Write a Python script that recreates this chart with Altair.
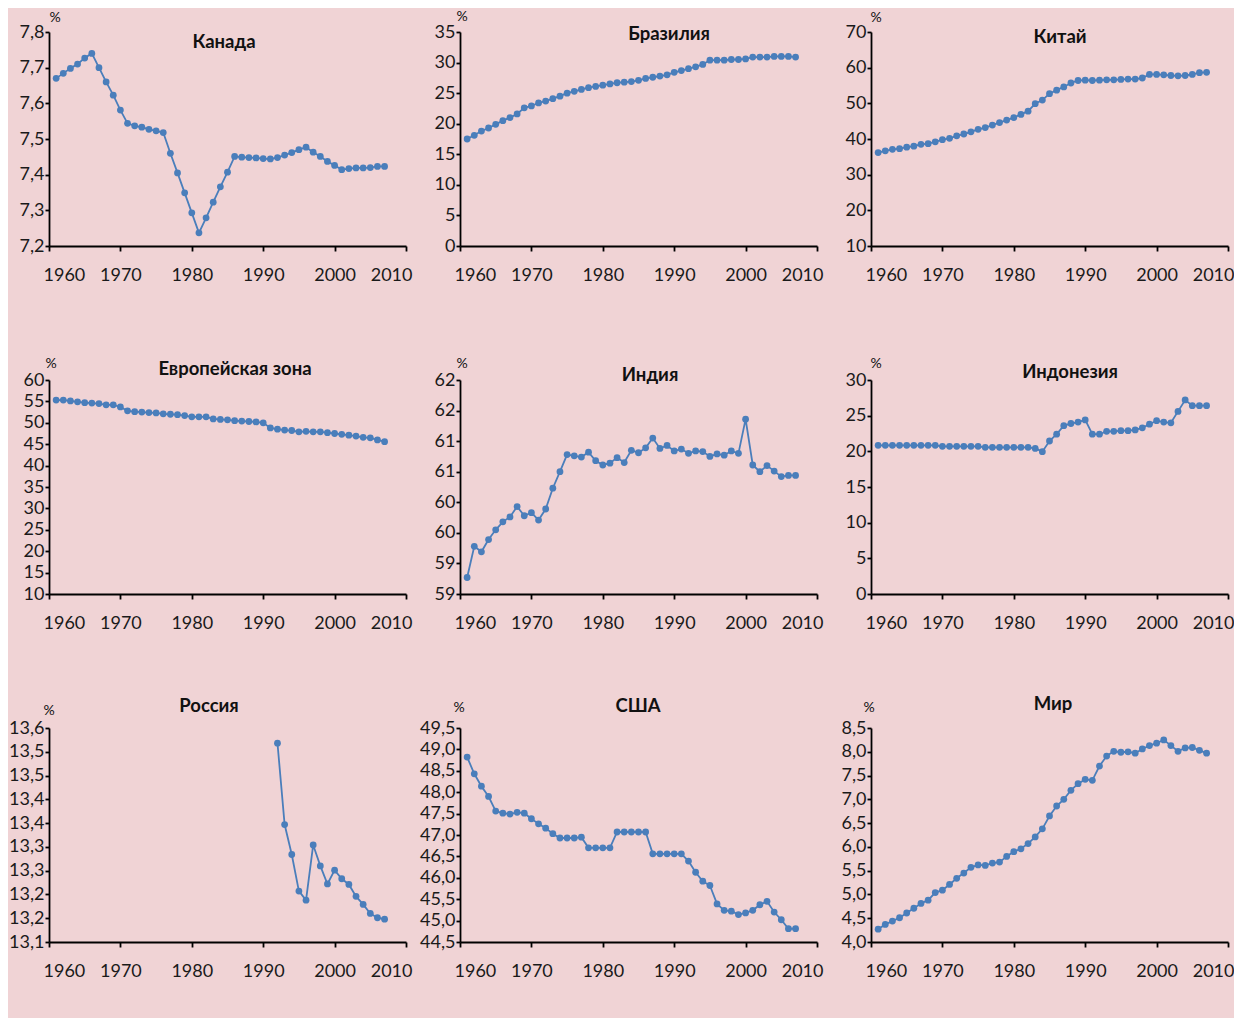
import json
import altair as alt
import pandas as pd

# ---------------- data ----------------
YEARS = list(range(1961, 2008))
YEARS_RU = list(range(1992, 2008))
X_TICKS = [1960, 1970, 1980, 1990, 2000, 2010]

names = ["Канада", "Бразилия", "Китай", "Европейская зона", "Индия",
         "Индонезия", "Россия", "США", "Мир"]

canada = [7.670, 7.684, 7.698, 7.710, 7.727, 7.740, 7.700, 7.660, 7.623, 7.581,
          7.544, 7.537, 7.533, 7.527, 7.523, 7.518, 7.460, 7.405, 7.349, 7.293,
          7.237, 7.279, 7.323, 7.366, 7.407, 7.451, 7.449, 7.448, 7.447, 7.445,
          7.444, 7.448, 7.455, 7.462, 7.470, 7.477, 7.463, 7.451, 7.437, 7.426,
          7.414, 7.417, 7.419, 7.419, 7.420, 7.423, 7.423]
brazil = [17.5, 18.1, 18.8, 19.3, 19.9, 20.5, 21.0, 21.6, 22.6, 22.9,
          23.4, 23.7, 24.1, 24.5, 25.0, 25.3, 25.6, 25.9, 26.1, 26.3,
          26.5, 26.7, 26.8, 26.9, 27.1, 27.4, 27.6, 27.8, 28.0, 28.4,
          28.7, 29.0, 29.3, 29.7, 30.4, 30.4, 30.4, 30.5, 30.5, 30.6,
          30.9, 30.9, 30.9, 31.0, 31.0, 31.0, 30.9]
china = [36.2, 36.7, 37.1, 37.3, 37.7, 38.0, 38.5, 38.7, 39.2, 39.8,
         40.2, 40.9, 41.4, 42.0, 42.7, 43.2, 43.9, 44.6, 45.3, 46.0,
         46.9, 47.8, 49.9, 50.9, 52.7, 53.7, 54.6, 55.7, 56.4, 56.5,
         56.4, 56.5, 56.6, 56.6, 56.7, 56.8, 56.8, 57.1, 58.1, 58.1,
         58.0, 57.8, 57.7, 57.8, 58.1, 58.6, 58.7]
europe = [55.3, 55.3, 55.1, 54.9, 54.7, 54.6, 54.5, 54.2, 54.2, 53.7,
          52.8, 52.6, 52.5, 52.4, 52.3, 52.1, 52.0, 51.9, 51.7, 51.4,
          51.4, 51.4, 50.9, 50.8, 50.7, 50.5, 50.4, 50.3, 50.2, 50.0,
          48.8, 48.5, 48.3, 48.2, 47.9, 48.0, 47.9, 47.9, 47.7, 47.5,
          47.3, 47.1, 46.9, 46.6, 46.5, 46.0, 45.6]
india = [58.77, 59.28, 59.19, 59.39, 59.55, 59.68, 59.76, 59.93, 59.78, 59.83,
         59.71, 59.89, 60.23, 60.50, 60.78, 60.76, 60.74, 60.82, 60.68, 60.61,
         60.64, 60.73, 60.65, 60.85, 60.81, 60.89, 61.05, 60.88, 60.93, 60.84,
         60.87, 60.80, 60.84, 60.83, 60.75, 60.79, 60.77, 60.84, 60.80, 61.36,
         60.61, 60.50, 60.60, 60.51, 60.42, 60.44, 60.44]
indonesia = [20.84, 20.84, 20.84, 20.84, 20.84, 20.84, 20.84, 20.84, 20.84, 20.7,
             20.7, 20.7, 20.7, 20.7, 20.7, 20.56, 20.56, 20.56, 20.56, 20.56,
             20.56, 20.56, 20.4, 19.95, 21.45, 22.4, 23.6, 23.9, 24.1, 24.4,
             22.4, 22.4, 22.8, 22.8, 22.9, 22.9, 23.0, 23.3, 23.8, 24.3,
             24.1, 24.0, 25.6, 27.2, 26.4, 26.4, 26.4]
russia = [13.568, 13.397, 13.334, 13.257, 13.238, 13.354, 13.310, 13.272,
          13.301, 13.283, 13.271, 13.246, 13.229, 13.210, 13.201, 13.198]
usa = [48.82, 48.43, 48.14, 47.90, 47.56, 47.51, 47.49, 47.53, 47.51, 47.38,
       47.26, 47.16, 47.03, 46.93, 46.93, 46.93, 46.95, 46.70, 46.70, 46.70,
       46.70, 47.07, 47.07, 47.07, 47.07, 47.07, 46.56, 46.56, 46.56, 46.56,
       46.56, 46.39, 46.13, 45.92, 45.82, 45.39, 45.24, 45.22, 45.14, 45.18,
       45.24, 45.37, 45.45, 45.20, 45.02, 44.81, 44.81]
world = [4.27, 4.37, 4.44, 4.51, 4.61, 4.71, 4.81, 4.88, 5.04, 5.09,
         5.21, 5.34, 5.45, 5.57, 5.62, 5.61, 5.66, 5.68, 5.80, 5.90,
         5.96, 6.07, 6.21, 6.38, 6.65, 6.86, 7.00, 7.19, 7.33, 7.42,
         7.40, 7.70, 7.91, 8.01, 7.99, 8.00, 7.97, 8.06, 8.13, 8.18,
         8.25, 8.13, 8.01, 8.08, 8.09, 8.03, 7.97]

canada_ticks = [7.2, 7.3, 7.4, 7.5, 7.6, 7.7, 7.8]
canada_labels = ["7,2", "7,3", "7,4", "7,5", "7,6", "7,7", "7,8"]
brazil_ticks = [0, 5, 10, 15, 20, 25, 30, 35]
brazil_labels = ["0", "5", "10", "15", "20", "25", "30", "35"]
china_ticks = [10, 20, 30, 40, 50, 60, 70]
china_labels = ["10", "20", "30", "40", "50", "60", "70"]
europe_ticks = [10, 15, 20, 25, 30, 35, 40, 45, 50, 55, 60]
europe_labels = ["10", "15", "20", "25", "30", "35", "40", "45", "50", "55", "60"]
india_ticks = [58.5, 59, 59.5, 60, 60.5, 61, 61.5, 62]
india_labels = ["59", "59", "60", "60", "61", "61", "62", "62"]
indonesia_ticks = [0, 5, 10, 15, 20, 25, 30]
indonesia_labels = ["0", "5", "10", "15", "20", "25", "30"]
russia_ticks = [13.15, 13.2, 13.25, 13.3, 13.35, 13.4, 13.45, 13.5, 13.55, 13.6]
russia_labels = ["13,1", "13,2", "13,2", "13,3", "13,3", "13,4", "13,4", "13,5", "13,5", "13,6"]
usa_ticks = [44.5, 45, 45.5, 46, 46.5, 47, 47.5, 48, 48.5, 49, 49.5]
usa_labels = ["44,5", "45,0", "45,5", "46,0", "46,5", "47,0", "47,5", "48,0", "48,5", "49,0", "49,5"]
world_ticks = [4.0, 4.5, 5.0, 5.5, 6.0, 6.5, 7.0, 7.5, 8.0, 8.5]
world_labels = ["4,0", "4,5", "5,0", "5,5", "6,0", "6,5", "7,0", "7,5", "8,0", "8,5"]

# ---------------- style ----------------
BG = "#f0d3d5"
BLUE = "#4a7ebb"
FONT = "Lato"
W, H = 357, 214

# (title x, title y, % x, % y) relative to each plot area
text_pos = [
    (175, 10, 6, -14), (209, 2, 2, -15), (189, 5, 5, -14),
    (186, -11, 2, -16), (190, -5, 2, -16), (199, -8, 5, -16),
    (160, -22, 0, -17), (178, -22, -1, -20), (182, -24, -2, -20),
]


def panel(i, yrs, vals, ticks, labels):
    df = pd.DataFrame({"year": yrs, "value": vals})
    expr = f"{json.dumps(labels)}[indexof({json.dumps(ticks)}, datum.value)]"
    x = alt.X("year:Q",
              scale=alt.Scale(domain=[1960, 2010], nice=False, zero=False),
              axis=alt.Axis(values=X_TICKS, format="d", title=None, grid=False,
                            tickSize=5, labelPadding=15, labelFlush=True,
                            labelFlushOffset=6, labelOverlap=False))
    y = alt.Y("value:Q",
              scale=alt.Scale(domain=[ticks[0], ticks[-1]], nice=False, zero=False),
              axis=alt.Axis(values=ticks, labelExpr=expr, title=None, grid=False,
                            tickSize=4, labelPadding=1, labelOverlap=False,
                            labelFlush=False))
    base = alt.Chart(df).encode(x=x, y=y)
    line = base.mark_line(color=BLUE, strokeWidth=1.8)
    pts = base.mark_circle(color=BLUE, size=46, opacity=1)
    tx, ty, px, py = text_pos[i]
    tdf = pd.DataFrame({"t": [names[i]]})
    title = alt.Chart(tdf).mark_text(
        font=FONT, fontSize=18.5, fontWeight="bold", color="#111111",
        align="center", baseline="middle"
    ).encode(text="t:N", x=alt.value(tx), y=alt.value(ty))
    pdf = pd.DataFrame({"p": ["%"]})
    pct = alt.Chart(pdf).mark_text(
        font=FONT, fontSize=14, color="#111111", align="center", baseline="middle"
    ).encode(text="p:N", x=alt.value(px), y=alt.value(py))
    return alt.layer(line, pts, title, pct).properties(width=W, height=H)


series = [
    (YEARS, canada, canada_ticks, canada_labels),
    (YEARS, brazil, brazil_ticks, brazil_labels),
    (YEARS, china, china_ticks, china_labels),
    (YEARS, europe, europe_ticks, europe_labels),
    (YEARS, india, india_ticks, india_labels),
    (YEARS, indonesia, indonesia_ticks, indonesia_labels),
    (YEARS_RU, russia, russia_ticks, russia_labels),
    (YEARS, usa, usa_ticks, usa_labels),
    (YEARS, world, world_ticks, world_labels),
]
panels = [panel(i, *s) for i, s in enumerate(series)]

chart = alt.concat(
    *panels, columns=3, spacing={"row": 134, "column": 54}, bounds="flush"
).configure(
    background=BG,
    padding={"left": 0, "top": 2, "right": 0, "bottom": 38},
).configure_view(
    stroke=None
).configure_axis(
    domainColor="#000000", domainWidth=1.8, tickColor="#000000", tickWidth=1.8,
    labelColor="#1a1a1a", labelFont=FONT, labelFontSize=18
)

chart.save("out.html", embed_options={"renderer": "svg", "actions": False})
